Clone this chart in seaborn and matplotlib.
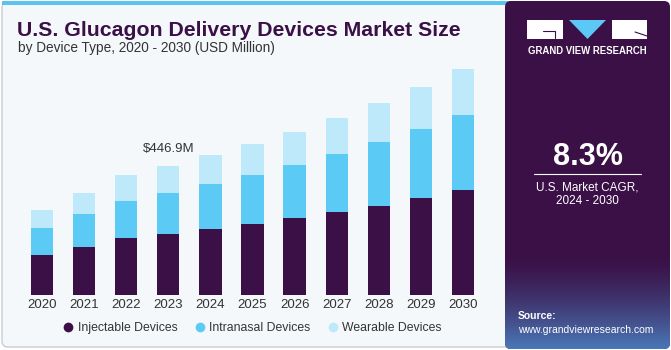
import numpy as np
import pandas as pd
import matplotlib
matplotlib.use("Agg")
import matplotlib.pyplot as plt
import seaborn as sns
from matplotlib.patches import FancyBboxPatch, Rectangle, Polygon
from matplotlib.lines import Line2D

# Data (USD Million)
years = ["2020", "2021", "2022", "2023", "2024", "2025", "2026", "2027", "2028", "2029", "2030"]
injectable = [139.6, 167.3, 196.4, 210.3, 227.6, 245.9, 265.7, 287.5, 309.3, 336.0, 362.7]
intranasal = [93.5, 112.2, 130.2, 144.1, 155.9, 170.8, 184.6, 199.9, 219.6, 238.0, 260.8]
wearable = [61.3, 74.8, 88.0, 92.5, 100.5, 106.3, 115.4, 125.7, 136.1, 146.5, 158.3]
segments = ["Injectable Devices", "Intranasal Devices", "Wearable Devices"]
colors = ["#3A1046", "#5BCBF5", "#BDE9FA"]

purple = "#3A1046"
W, H = 671, 350

sns.set_theme(style="white")
plt.rcParams["font.family"] = ["Liberation Sans", "DejaVu Sans"]

fig = plt.figure(figsize=(W / 100, H / 100), dpi=100)

# background canvas in pixel coords
bg = fig.add_axes([0, 0, 1, 1])
bg.set_xlim(0, W)
bg.set_ylim(H, 0)
bg.axis("off")
bg.add_patch(FancyBboxPatch((2, 2), 520, 345, boxstyle="round,pad=0,rounding_size=6",
                            fc="#F4F8FB", ec="#C9CDD2", lw=1))
bg.add_patch(Rectangle((2, 1), 520, 4, fc="#5BC4EE", ec="none"))

panel = FancyBboxPatch((505, 1), 165, 348, boxstyle="round,pad=0,rounding_size=6",
                       fc=purple, ec="none")
bg.add_patch(panel)
# gradient at bottom of side panel
c0 = np.array(matplotlib.colors.to_rgb(purple))
c1 = np.array(matplotlib.colors.to_rgb("#4A78B8"))
t = np.linspace(0, 1, 100)[:, None] ** 1.4
grad = (c0 * (1 - t) + c1 * t)[:, None, :].repeat(2, axis=1)
im = bg.imshow(grad, extent=[505, 670, 349, 255], aspect="auto", zorder=1)
im.set_clip_path(panel)

# logo
bg.add_patch(Rectangle((527, 20), 36, 19, fc="white", ec="none", zorder=2))
bg.add_patch(Polygon([[569, 20], [606, 20], [587.5, 39]], closed=True, fc="#5BC8F5", ec="none", zorder=2))
bg.add_patch(Rectangle((612, 20), 35, 19, fc="white", ec="none", zorder=2))
bg.plot([543, 555, 555], [31, 31, 38], color=purple, lw=0.8, zorder=3)
bg.plot([635, 647], [32, 36], color=purple, lw=0.8, zorder=3)
bg.text(587.5, 51, "GRAND VIEW RESEARCH", color="white", fontsize=6.9, fontweight="bold",
        ha="center", va="center", zorder=3)

bg.text(587.5, 157, "8.3%", color="white", fontsize=22, fontweight="bold",
        ha="center", va="center", zorder=3)
bg.plot([534, 641], [173.5, 173.5], color="white", lw=0.8, zorder=3)
bg.text(587.5, 187, "U.S. Market CAGR,", color="white", fontsize=8.5, ha="center", va="center", zorder=3)
bg.text(587.5, 201, "2024 - 2030", color="white", fontsize=8.5, ha="center", va="center", zorder=3)
bg.text(518, 316, "Source:", color="white", fontsize=7.5, fontweight="bold", ha="left", va="center", zorder=3)
bg.text(518, 330, "www.grandviewresearch.com", color="white", fontsize=7.5, ha="left", va="center", zorder=3)

# titles
bg.text(17, 30, "U.S. Glucagon Delivery Devices Market Size", color=purple, fontsize=15.3,
        fontweight="bold", ha="left", va="center")
bg.text(18, 48, "by Device Type, 2020 - 2030 (USD Million)", color="#333333", fontsize=9.8,
        ha="left", va="center")

# chart axes
ax = fig.add_axes([21 / W, (H - 295) / H, (484 - 21) / W, (295 - 60) / H])
ax.patch.set_alpha(0)
df = pd.DataFrame({"year": years, segments[0]: injectable,
                   segments[1]: intranasal, segments[2]: wearable})
bottom = np.zeros(len(years))
for seg, col in zip(segments, colors):
    sns.barplot(data=df, x="year", y=seg, color=col, width=0.53, bottom=bottom,
                ax=ax, saturation=1, edgecolor="none")
    bottom = bottom + df[seg].values
ax.set_xlim(-0.5, len(years) - 0.5)
ax.set_ylim(0, 814)
ax.set_xlabel("")
ax.set_ylabel("")
ax.set_yticks([])
for s in ax.spines.values():
    s.set_visible(False)
ax.tick_params(axis="x", length=0, pad=3, labelsize=9.5, labelcolor="#333333")

i23 = years.index("2023")
ax.annotate(f"${bottom[i23]:.1f}M", (i23, bottom[i23]), xytext=(0, 8), textcoords="offset points",
            ha="center", va="bottom", fontsize=9.5, color="#333333")

handles = [Line2D([], [], marker="o", ls="none", markersize=7, markerfacecolor=c,
                  markeredgecolor="none") for c in colors]
fig.legend(handles, segments, loc="center", bbox_to_anchor=(252 / W, (H - 328) / H), ncol=3,
           frameon=False, fontsize=8.8, handletextpad=0.3, columnspacing=1.3,
           handlelength=1.0, labelcolor="#333333")

fig.savefig("out.png", dpi=100)
